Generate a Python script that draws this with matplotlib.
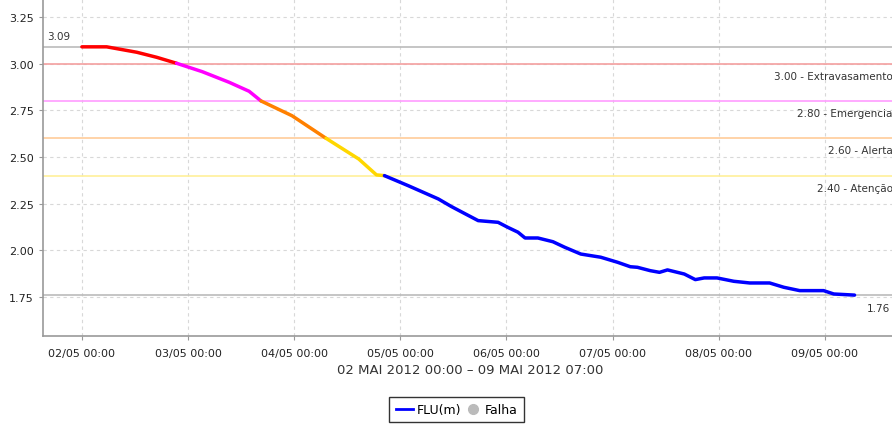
import numpy as np
import pandas as pd
import matplotlib
matplotlib.use("Agg")
import matplotlib.pyplot as plt
import matplotlib.dates as mdates
from matplotlib.lines import Line2D

plt.rcParams.update({"font.family": "DejaVu Sans", "font.size": 8})

# leituras (horas desde 02/05 00:00, nivel em m)
horas = [0, 5.6, 12.4, 16.9, 21.4, 27.2, 33.3, 37.8, 40.5, 47.5, 55.2, 62.6,
         66.6, 68.4, 73.8, 80.6, 83.5, 86.7, 89.6, 94.1, 96.3, 98.6, 100.2,
         103.1, 106.5, 109.2, 112.8, 117.3, 121.1, 124.0, 125.6, 128.5, 130.6,
         132.4, 136.2, 138.7, 140.7, 143.6, 147.4, 151.0, 155.5, 158.7, 162.3,
         167.7, 170.0, 174.7]
nivel = [3.09, 3.09, 3.061, 3.034, 3.002, 2.957, 2.90, 2.852, 2.80, 2.721,
         2.60, 2.489, 2.404, 2.40, 2.346, 2.275, 2.235, 2.195, 2.159, 2.15,
         2.123, 2.097, 2.066, 2.066, 2.046, 2.016, 1.98, 1.963, 1.936, 1.912,
         1.909, 1.891, 1.882, 1.895, 1.873, 1.843, 1.852, 1.852, 1.834, 1.825,
         1.825, 1.802, 1.784, 1.784, 1.766, 1.76]

cotas = [3.00, 2.80, 2.60, 2.40]
cotas_nomes = ["Extravasamento", "Emergencia", "Alerta", "Atenção"]
cotas_linhas = ["#f4a0a0", "#ff9cff", "#ffcc99", "#fff099"]
cotas_curva = ["#ff0000", "#ff00ff", "#ff8000", "#ffd700", "#0000ff"]

inicio = pd.Timestamp("2012-05-02 00:00")
t = np.array([mdates.date2num(inicio + pd.Timedelta(hours=h)) for h in horas])
v = np.array(nivel)

fig = plt.figure(figsize=(8.92, 4.27), dpi=100)
ax = fig.add_axes([0.0482, 0.2108, 0.9574, 0.7939])


def faixa(vm):
    if vm > cotas[0]:
        return 0
    if vm > cotas[1]:
        return 1
    if vm > cotas[2]:
        return 2
    if vm > cotas[3] - 0.005:
        return 3
    return 4


# agrupa trechos consecutivos da mesma faixa numa so linha
grupos = []
for i in range(len(t) - 1):
    k = faixa((v[i] + v[i + 1]) / 2)
    if grupos and grupos[-1][0] == k:
        grupos[-1][1].append(i + 1)
    else:
        grupos.append([k, [i, i + 1]])
for k, idx in grupos:
    ax.plot(t[idx], v[idx], color=cotas_curva[k], lw=2.5, zorder=4,
            solid_capstyle="round", solid_joinstyle="round")

# linhas de cota
for cota, nome, cor in zip(cotas, cotas_nomes, cotas_linhas):
    ax.axhline(cota, color=cor, lw=1.2, zorder=2)
    ax.annotate(f"{cota:.2f} - {nome}", xy=(1.0, cota),
                xycoords=("axes fraction", "data"), xytext=(-3, -5),
                textcoords="offset points", ha="right", va="top",
                fontsize=7.5, color="#333333")

# max e min
vmax, vmin = v.max(), v.min()
ax.axhline(vmax, color="#bbbbbb", lw=1.2, zorder=2)
ax.axhline(vmin, color="#bbbbbb", lw=1.2, zorder=2)
ax.annotate(f"{vmax:.2f}", xy=(0, vmax), xycoords=("axes fraction", "data"),
            xytext=(3, 4), textcoords="offset points", ha="left", va="bottom",
            fontsize=7.5, color="#333333")
ax.annotate(f"{vmin:.2f}", xy=(t[-1], vmin), xycoords="data",
            xytext=(9, -6), textcoords="offset points", ha="left", va="top",
            fontsize=7.5, color="#333333")

ax.set_xlim(mdates.date2num(inicio - pd.Timedelta(hours=8.8)),
            mdates.date2num(inicio + pd.Timedelta(hours=184.3)))
ax.set_ylim(1.541, 3.357)
ax.set_yticks([1.75, 2.00, 2.25, 2.50, 2.75, 3.00, 3.25])
ax.yaxis.set_major_formatter(plt.FormatStrFormatter("%.2f"))
ax.xaxis.set_major_locator(mdates.DayLocator())
ax.xaxis.set_major_formatter(mdates.DateFormatter("%d/%m %H:%M"))

ax.grid(True, color="#d8d8d8", ls=(0, (3, 3)), lw=0.8)
ax.set_axisbelow(True)
for s in ["top", "right"]:
    ax.spines[s].set_visible(False)
for s in ["left", "bottom"]:
    ax.spines[s].set_color("#999999")
    ax.spines[s].set_linewidth(1.2)
ax.tick_params(colors="#999999", labelcolor="#222222", length=3, width=0.8)
ax.tick_params(axis="x", pad=6)

ax.set_xlabel("02 MAI 2012 00:00 – 09 MAI 2012 07:00", fontsize=9.5,
              color="#333333", labelpad=3)

handles = [Line2D([], [], color="#0000ff", lw=2),
           Line2D([], [], color="#bbbbbb", marker="o", ls="none", markersize=7)]
fig.legend(handles, ["FLU(m)", "Falha"], loc="upper center",
           bbox_to_anchor=(0.512, 0.068), ncol=2, frameon=True, fancybox=False,
           edgecolor="#000000", fontsize=9, handlelength=1.4, handletextpad=0.3,
           columnspacing=0.2, borderpad=0.5, borderaxespad=0.0)

fig.savefig("out.png", dpi=100)
